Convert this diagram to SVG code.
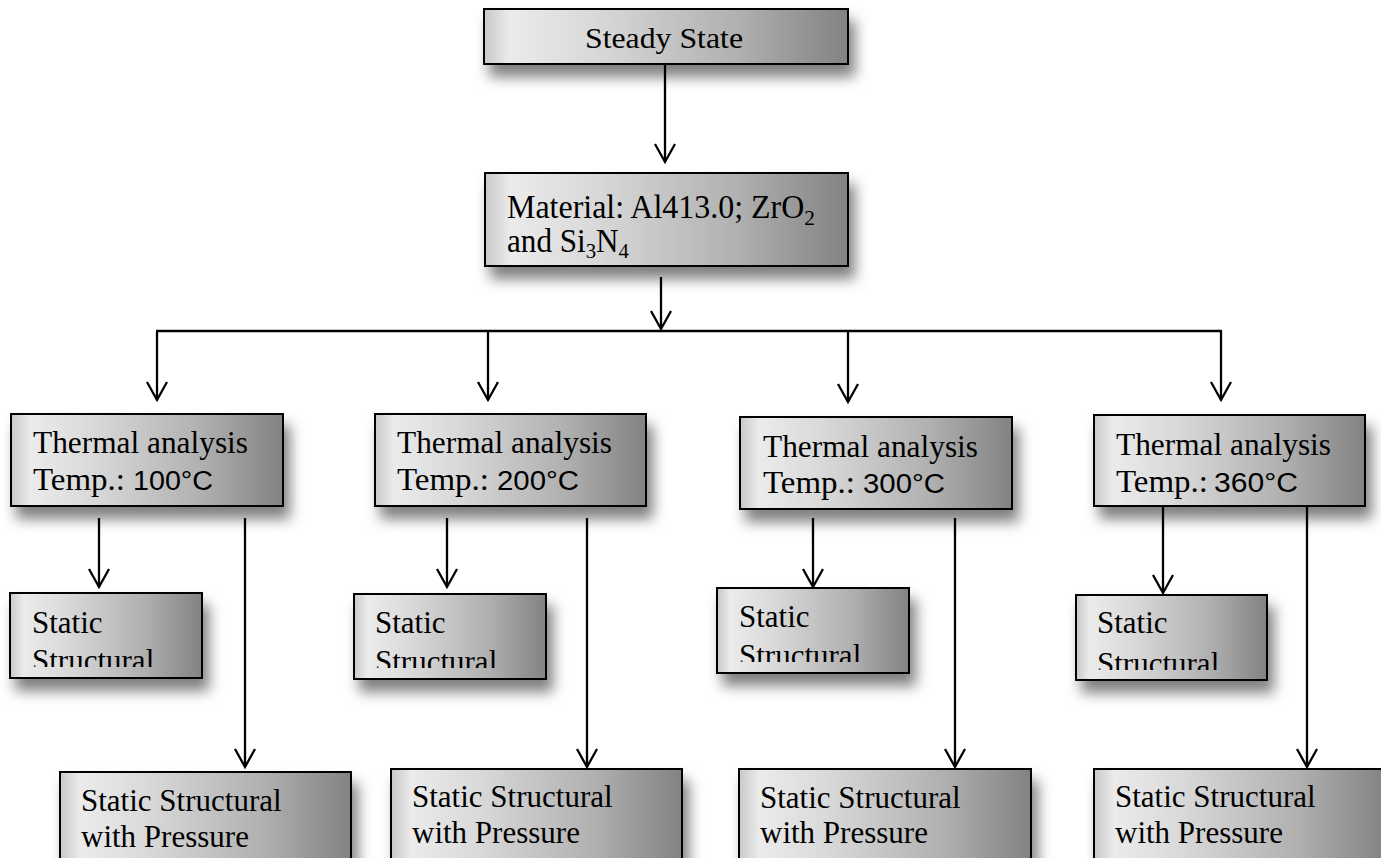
<svg xmlns="http://www.w3.org/2000/svg" width="1381" height="858" viewBox="0 0 1381 858">
<style>
.box{fill:url(#metal);stroke:#000;stroke-width:2;filter:url(#shadow)}
.t{font-family:"Liberation Serif","Times New Roman",serif;fill:#000}
.s{font-family:"Liberation Sans",Arial,sans-serif;fill:#000}
.c{fill:none;stroke:#000;stroke-width:2.3}
.a{marker-end:url(#arrow)}
</style>
<defs>
<linearGradient id="metal" x1="0" y1="0" x2="1" y2="0">
<stop offset="0" stop-color="#c8c8c8"/>
<stop offset="0.07" stop-color="#ebebeb"/>
<stop offset="0.3" stop-color="#d9d9d9"/>
<stop offset="0.7" stop-color="#b0b0b0"/>
<stop offset="1" stop-color="#828282"/>
</linearGradient>
<filter id="shadow" x="-10%" y="-20%" width="130%" height="170%">
<feDropShadow dx="6" dy="12" stdDeviation="7" flood-color="#000" flood-opacity="0.5"/>
</filter>
<marker id="arrow" markerUnits="userSpaceOnUse" markerWidth="24" markerHeight="24" viewBox="-20 -12 24 24" refX="0" refY="0" orient="auto" overflow="visible">
<path d="M-18,-10 L0,0 L-18,10" fill="none" stroke="#000" stroke-width="2.3"/>
</marker>
<clipPath id="clip1"><rect x="0" y="590" width="240" height="77"/></clipPath>
<clipPath id="clip2"><rect x="340" y="590" width="240" height="78"/></clipPath>
<clipPath id="clip3"><rect x="700" y="584" width="240" height="78"/></clipPath>
<clipPath id="clip4"><rect x="1060" y="590" width="240" height="80"/></clipPath>
</defs>

<g id="steady">
<rect class="box" x="484" y="9" width="364" height="55"/>
<text class="t" x="585" y="48" font-size="30" textLength="158" lengthAdjust="spacingAndGlyphs">Steady State</text>
</g>

<g id="material">
<rect class="box" x="485" y="173" width="363" height="93"/>
<text class="t" x="507" y="218" font-size="33" textLength="308" lengthAdjust="spacingAndGlyphs">Material: Al413.0; ZrO<tspan font-size="22" dy="7">2</tspan></text>
<text class="t" x="507" y="252" font-size="33" textLength="122" lengthAdjust="spacingAndGlyphs">and Si<tspan font-size="22" dy="6">3</tspan><tspan dy="-6">N</tspan><tspan font-size="22" dy="6">4</tspan></text>
</g>

<g id="thermal100">
<rect class="box" x="11" y="414" width="272" height="92"/>
<text class="t" x="33" y="453" font-size="31" textLength="215" lengthAdjust="spacingAndGlyphs">Thermal analysis</text>
<text class="t" x="33" y="490" font-size="31" textLength="92" lengthAdjust="spacingAndGlyphs">Temp.:</text>
<text class="s" x="133" y="490" font-size="27" textLength="80" lengthAdjust="spacingAndGlyphs">100°C</text>
</g>
<g id="thermal200">
<rect class="box" x="375" y="414" width="271" height="92"/>
<text class="t" x="397" y="453" font-size="31" textLength="215" lengthAdjust="spacingAndGlyphs">Thermal analysis</text>
<text class="t" x="397" y="490" font-size="31" textLength="92" lengthAdjust="spacingAndGlyphs">Temp.:</text>
<text class="s" x="497" y="490" font-size="27" textLength="82" lengthAdjust="spacingAndGlyphs">200°C</text>
</g>
<g id="thermal300">
<rect class="box" x="740" y="417" width="272" height="92"/>
<text class="t" x="763" y="457" font-size="31" textLength="215" lengthAdjust="spacingAndGlyphs">Thermal analysis</text>
<text class="t" x="763" y="493" font-size="31" textLength="92" lengthAdjust="spacingAndGlyphs">Temp.:</text>
<text class="s" x="863" y="493" font-size="27" textLength="82" lengthAdjust="spacingAndGlyphs">300°C</text>
</g>
<g id="thermal360">
<rect class="box" x="1094" y="415" width="271" height="91"/>
<text class="t" x="1116" y="455" font-size="31" textLength="215" lengthAdjust="spacingAndGlyphs">Thermal analysis</text>
<text class="t" x="1116" y="492" font-size="31" textLength="92" lengthAdjust="spacingAndGlyphs">Temp.:</text>
<text class="s" x="1214" y="492" font-size="27" textLength="84" lengthAdjust="spacingAndGlyphs">360°C</text>
</g>

<g id="static100">
<rect class="box" x="10" y="593" width="192" height="85"/>
<text class="t" x="32" y="633" font-size="31">Static</text>
<text class="t" x="32" y="671" font-size="31" clip-path="url(#clip1)">Structural</text>
</g>
<g id="static200">
<rect class="box" x="354" y="594" width="192" height="85"/>
<text class="t" x="375" y="633" font-size="31">Static</text>
<text class="t" x="375" y="672" font-size="31" clip-path="url(#clip2)">Structural</text>
</g>
<g id="static300">
<rect class="box" x="717" y="588" width="192" height="85"/>
<text class="t" x="739" y="627" font-size="31">Static</text>
<text class="t" x="739" y="666" font-size="31" clip-path="url(#clip3)">Structural</text>
</g>
<g id="static360">
<rect class="box" x="1076" y="595" width="191" height="85"/>
<text class="t" x="1097" y="633" font-size="31">Static</text>
<text class="t" x="1097" y="674" font-size="31" clip-path="url(#clip4)">Structural</text>
</g>

<g id="pressure100">
<rect class="box" x="60" y="772" width="291" height="110"/>
<text class="t" x="81" y="811" font-size="31">Static Structural</text>
<text class="t" x="81" y="847" font-size="31">with Pressure</text>
</g>
<g id="pressure200">
<rect class="box" x="391" y="769" width="291" height="110"/>
<text class="t" x="412" y="807" font-size="31">Static Structural</text>
<text class="t" x="412" y="843" font-size="31">with Pressure</text>
</g>
<g id="pressure300">
<rect class="box" x="739" y="769" width="292" height="110"/>
<text class="t" x="760" y="808" font-size="31">Static Structural</text>
<text class="t" x="760" y="843" font-size="31">with Pressure</text>
</g>
<g id="pressure360">
<rect class="box" x="1094" y="769" width="292" height="110"/>
<text class="t" x="1115" y="807" font-size="31">Static Structural</text>
<text class="t" x="1115" y="843" font-size="31">with Pressure</text>
</g>

<g id="connectors">
<line class="c a" x1="665" y1="64" x2="665" y2="162"/>
<line class="c a" x1="661" y1="277" x2="661" y2="329"/>
<line class="c" x1="156" y1="331" x2="1222" y2="331"/>
<line class="c a" x1="157" y1="331" x2="157" y2="400"/>
<line class="c a" x1="488" y1="331" x2="488" y2="400"/>
<line class="c a" x1="848" y1="331" x2="848" y2="402"/>
<line class="c a" x1="1221" y1="331" x2="1221" y2="400"/>
<line class="c a" x1="99" y1="518" x2="99" y2="587"/>
<line class="c a" x1="245" y1="518" x2="245" y2="767"/>
<line class="c a" x1="447" y1="518" x2="447" y2="587"/>
<line class="c a" x1="587" y1="518" x2="587" y2="767"/>
<line class="c a" x1="813" y1="518" x2="813" y2="587"/>
<line class="c a" x1="955" y1="518" x2="955" y2="767"/>
<line class="c a" x1="1163" y1="507" x2="1163" y2="593"/>
<line class="c a" x1="1307" y1="507" x2="1307" y2="767"/>
</g>
</svg>
